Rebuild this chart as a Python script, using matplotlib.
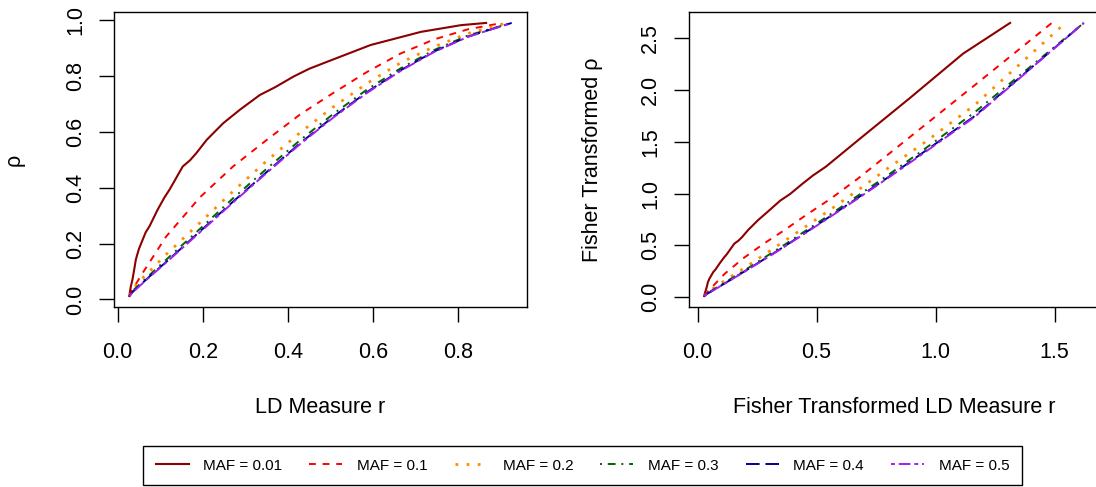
import numpy as np
import matplotlib
matplotlib.use("Agg")
import matplotlib.pyplot as plt

plt.rcParams['font.family'] = ['Liberation Sans', 'DejaVu Sans']

# ---- data (left panel: LD measure r vs rho) ----
labels = ["MAF = 0.01", "MAF = 0.1", "MAF = 0.2", "MAF = 0.3", "MAF = 0.4", "MAF = 0.5"]
colors = ["#8B0000", "#FF0000", "#FF8C00", "#006400", "#00008B", "#A020F0"]

r_001 = [0.0276, 0.031, 0.035, 0.040, 0.043, 0.050, 0.059, 0.066, 0.075, 0.094, 0.110, 0.122,
         0.153, 0.170, 0.185, 0.209, 0.248, 0.287, 0.334, 0.370, 0.413, 0.450, 0.492, 0.594,
         0.712, 0.806, 0.865]
rho_001 = [0.012, 0.045, 0.071, 0.115, 0.143, 0.180, 0.214, 0.240, 0.262, 0.321, 0.365, 0.393,
           0.476, 0.498, 0.524, 0.571, 0.631, 0.679, 0.732, 0.760, 0.798, 0.826, 0.851, 0.911,
           0.958, 0.982, 0.990]

r_01 = [0.0276, 0.035, 0.059, 0.114, 0.193, 0.271, 0.350, 0.429, 0.507, 0.586, 0.665, 0.743, 0.822, 0.903]
rho_01 = [0.012, 0.035, 0.095, 0.225, 0.365, 0.476, 0.571, 0.663, 0.740, 0.815, 0.881, 0.931, 0.967, 0.990]

r_02 = [0.0276, 0.047, 0.071, 0.114, 0.193, 0.271, 0.350, 0.429, 0.507, 0.586, 0.665, 0.743, 0.822, 0.913]
rho_02 = [0.012, 0.060, 0.094, 0.161, 0.274, 0.387, 0.496, 0.598, 0.690, 0.774, 0.848, 0.905, 0.952, 0.990]

r_03 = [0.0276, 0.035, 0.075, 0.114, 0.193, 0.271, 0.350, 0.429, 0.507, 0.586, 0.665, 0.743, 0.822, 0.925]
rho_03 = [0.012, 0.030, 0.087, 0.142, 0.252, 0.362, 0.468, 0.571, 0.665, 0.752, 0.828, 0.893, 0.945, 0.990]

r_04 = [0.0276, 0.035, 0.075, 0.114, 0.193, 0.271, 0.350, 0.429, 0.507, 0.586, 0.665, 0.743, 0.822, 0.925]
rho_04 = [0.012, 0.026, 0.082, 0.134, 0.243, 0.350, 0.456, 0.560, 0.655, 0.743, 0.821, 0.888, 0.941, 0.990]

r_05 = [0.0276, 0.035, 0.075, 0.114, 0.193, 0.271, 0.350, 0.429, 0.507, 0.586, 0.665, 0.743, 0.822, 0.925]
rho_05 = [0.012, 0.025, 0.080, 0.132, 0.240, 0.347, 0.453, 0.557, 0.652, 0.740, 0.819, 0.886, 0.940, 0.990]

r_series = [r_001, r_01, r_02, r_03, r_04, r_05]
rho_series = [rho_001, rho_01, rho_02, rho_03, rho_04, rho_05]

left_xticks = [0.0, 0.2, 0.4, 0.6, 0.8]
left_yticks = [0.0, 0.2, 0.4, 0.6, 0.8, 1.0]
right_xticks = [0.0, 0.5, 1.0, 1.5]
right_yticks = [0.0, 0.5, 1.0, 1.5, 2.0, 2.5]

# ---- styles ----
lws = [1.5, 1.4, 2.0, 1.4, 1.4, 1.4]
styles = ['-', (0, (3.5, 3.5)), (0, (1, 3)), (0, (1, 3, 4, 3)), (0, (7, 3)), (0, (2, 2, 6, 2))]

W, H = 1096, 487
fig = plt.figure(figsize=(W / 100, H / 100), dpi=100)


def px_axes(x0, x1, ytop, ybot):
    return fig.add_axes([x0 / W, (H - ybot) / H, (x1 - x0) / W, (ybot - ytop) / H])


def rlim(arrs):
    allv = np.concatenate([np.asarray(a, float) for a in arrs])
    lo, hi = allv.min(), allv.max()
    d = 0.04 * (hi - lo)
    return lo - d, hi + d


axL = px_axes(114, 527, 12, 307)
axR = px_axes(689, 1099, 12, 307)

lines = []
for r, rho, c, ls, lw, lab in zip(r_series, rho_series, colors, styles, lws, labels):
    ln, = axL.plot(r, rho, color=c, linestyle=ls, linewidth=lw, label=lab)
    lines.append(ln)
    axR.plot(np.arctanh(r), np.arctanh(rho), color=c, linestyle=ls, linewidth=lw)

axL.set_xlim(*rlim(r_series))
axL.set_ylim(*rlim(rho_series))
axR.set_xlim(*rlim([np.arctanh(r) for r in r_series]))
axR.set_ylim(*rlim([np.arctanh(r) for r in rho_series]))

fs = 15.5
for ax, xt, yt in [(axL, left_xticks, left_yticks), (axR, right_xticks, right_yticks)]:
    ax.set_xticks(xt)
    ax.set_yticks(yt)
    ax.set_xticklabels([f"{v:.1f}" for v in xt])
    ax.set_yticklabels([f"{v:.1f}" for v in yt])
    for s in ax.spines.values():
        s.set_linewidth(1.0)
        s.set_color('black')
    ax.tick_params(direction='out', length=10.6, width=1.0, labelsize=fs, colors='black')
    ax.tick_params(axis='x', pad=14.5)
    ax.tick_params(axis='y', pad=9.5)
    plt.setp(ax.get_yticklabels(), rotation=90, va='center')

axL.set_xlabel("LD Measure r", fontsize=fs, va='baseline')
axL.xaxis.set_label_coords(0.5, (307 - 413.3) / 295)
axR.set_xlabel("Fisher Transformed LD Measure r", fontsize=fs, va='baseline')
axR.xaxis.set_label_coords(0.5, (307 - 413.3) / 295)

axL.set_ylabel("\u03c1", fontsize=fs, va='baseline')
axL.yaxis.set_label_coords((20 - 114) / 413, 0.5)
axR.set_ylabel("Fisher Transformed \u03c1", fontsize=fs, va='baseline')
axR.yaxis.set_label_coords((598 - 689) / 410, 0.5)

# legend box spanning x = 143..1022 px, vertically centred at 465.5 px
leg = fig.legend(handles=lines, labels=labels, ncol=6, loc='center', mode='expand',
                 bbox_to_anchor=(143 / W, 1 - 485 / H, 879 / W, 39 / H), fontsize=11,
                 frameon=True, fancybox=False, edgecolor='black', framealpha=1,
                 handlelength=2.16, handletextpad=0.98, columnspacing=1.0,
                 borderpad=0.82, borderaxespad=0)
leg.get_frame().set_linewidth(1.0)

fig.savefig("out.png", dpi=100)
